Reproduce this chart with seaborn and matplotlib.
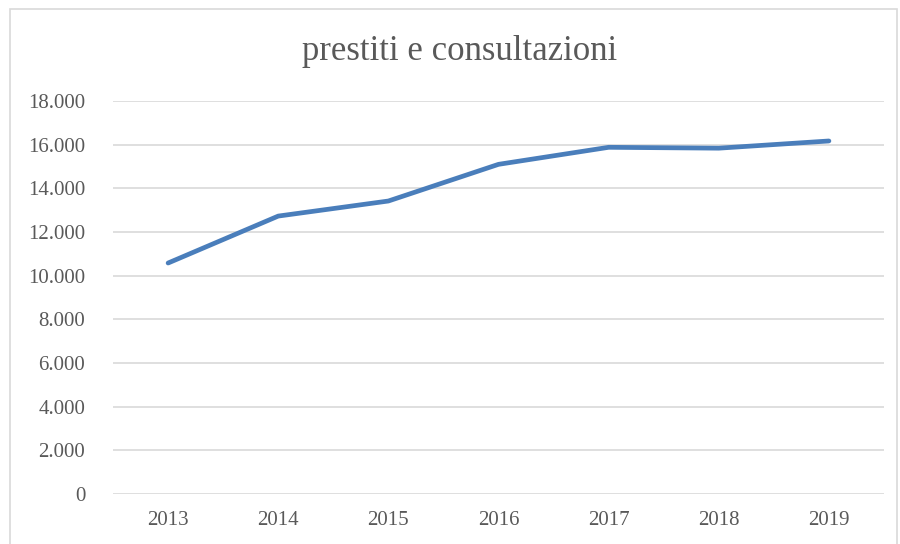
import matplotlib
matplotlib.use('Agg')
import matplotlib.pyplot as plt
import seaborn as sns
import pandas as pd
from matplotlib.patches import Rectangle
from matplotlib.ticker import FuncFormatter

# Data
years = ['2013', '2014', '2015', '2016', '2017', '2018', '2019']
prestiti = [10580, 12730, 13420, 15100, 15880, 15840, 16170]

df = pd.DataFrame({'anno': years, 'valore': prestiti})

sns.set_style('white')
plt.rcParams['font.family'] = ['Liberation Serif', 'DejaVu Serif']

fig = plt.figure(figsize=(9, 5.44), dpi=100)
ax = fig.add_axes([0.1256, 0.0919, 0.8566, 0.7224])

sns.lineplot(data=df, x='anno', y='valore', ax=ax, color='#4a7ebb',
             linewidth=3.4, sort=False, solid_capstyle='round')

ax.set_xlim(-0.5, len(years) - 0.5)
ax.set_ylim(0, 18000)
ax.set_yticks(range(0, 18001, 2000))
ax.yaxis.set_major_formatter(FuncFormatter(lambda v, p: f'{int(v):,}'.replace(',', '.')))
ax.grid(axis='y', color='#d9d9d9', linewidth=1.2)
ax.grid(axis='x', visible=False)
for s in ax.spines.values():
    s.set_visible(False)
ax.tick_params(axis='both', length=0, labelsize=15, labelcolor='#595959')
ax.tick_params(axis='y', pad=20)
ax.tick_params(axis='x', pad=12)
ax.set_xlabel('')
ax.set_ylabel('')

fig.text(0.511, 0.905, 'prestiti e consultazioni', ha='center', va='center',
         fontsize=25, color='#595959')

# chart frame
fig.patches.append(Rectangle((0.011, -0.01), 0.986, 0.994, transform=fig.transFigure,
                             fill=False, edgecolor='#d9d9d9', linewidth=1.2))

fig.savefig('out.png', dpi=100)
